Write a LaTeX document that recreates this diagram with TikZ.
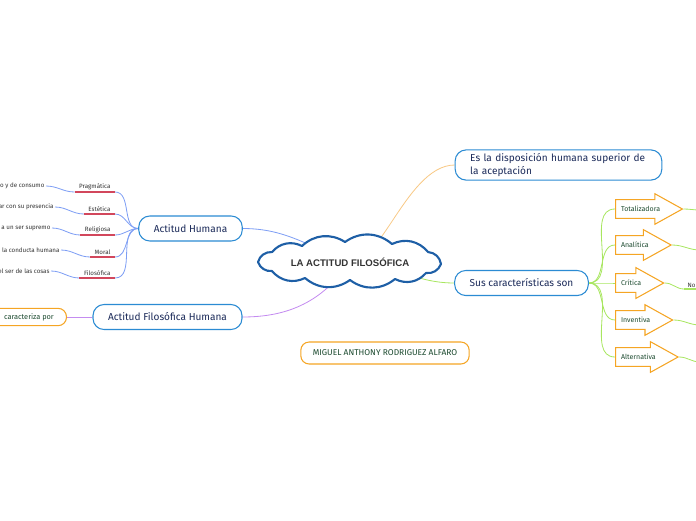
\documentclass[tikz,border=0pt]{standalone}
\usepackage{fontspec}
\setmainfont{Fira Sans}
\newfontfamily\cloudfont{Liberation Sans}
\usepackage{xcolor}
\usetikzlibrary{shapes, shapes.arrows, positioning, calc, backgrounds}

\definecolor{cloudblue}{HTML}{1E5FA6}
\definecolor{boxblue}{HTML}{2B8BD3}
\definecolor{navy}{HTML}{1C2B5A}
\definecolor{mmorange}{HTML}{F5A524}
\definecolor{mmgreen}{HTML}{1D4B30}
\definecolor{lnblue}{HTML}{7E9EF4}
\definecolor{lnpurple}{HTML}{C48CF0}
\definecolor{lnorange}{HTML}{F8C986}
\definecolor{lngreen}{HTML}{A8E660}
\definecolor{ulred}{HTML}{D2475C}

\tikzset{
  mainbox/.style={draw=boxblue, line width=0.9pt, rounded corners=0.33cm, fill=white,
    text=navy, font=\fontsize{8.6}{10.4}\selectfont, inner xsep=0.45cm, minimum height=0.75cm},
  orangebox/.style={draw=mmorange, line width=0.9pt, rounded corners=0.25cm, fill=white,
    text=mmgreen},
  arrowbox/.style={single arrow, draw=mmorange, line width=0.9pt, fill=white, text=mmgreen,
    font=\fontsize{6}{7}\selectfont, single arrow head extend=0.18cm,
    single arrow tip angle=58, inner xsep=0.15cm, inner ysep=0.18cm},
  label/.style={font=\fontsize{5.3}{6}\selectfont, text=black!80, inner xsep=0.13cm, inner ysep=0.06cm},
  leaf/.style={font=\fontsize{5.3}{6}\selectfont, text=black!80, inner xsep=0.04cm, inner ysep=0.03cm},
  conn/.style={line width=0.7pt},
  uline/.style={ulred, line width=1.5pt},
  puff/.style={bend left=38}
}

\begin{document}
\begin{tikzpicture}[x=0.03cm, y=-0.03cm]
  \useasboundingbox (0,0) rectangle (696,520);

  % Central topic: cloud outline drawn by hand
  \draw[cloudblue, line width=1.8pt, fill=white, line join=round]
    (258,262) to[puff] (272,252) to[puff] (302,246) to[puff] (345,242)
    to[puff] (392,244) to[puff] (428,252) to[puff] (441,264)
    to[puff] (426,273) to[puff] (395,279) to[puff] (350,280)
    to[puff] (305,278) to[puff] (272,271) to[puff] cycle;
  \node[font=\cloudfont\bfseries\fontsize{8.2}{9}\selectfont, text=black!80,
    minimum width=5.2cm, minimum height=1.1cm, inner sep=0] (root) at (350,262)
    {LA ACTITUD FILOSÓFICA};

  % Main topics
  \node[mainbox, text width=5.3cm, align=left] (disp) at (558.5,165)
    {Es la disposición humana superior de\\la aceptación};
  \node[mainbox] (sus) at (521.5,283) {Sus características son};
  \node[mainbox] (ah) at (190.5,228.5) {Actitud Humana};
  \node[mainbox] (afh) at (167.5,317) {Actitud Filosófica Humana};

  \node[orangebox, anchor=east, font=\fontsize{6.3}{7.5}\selectfont, inner xsep=0.38cm,
    minimum height=0.52cm] (carac) at (67,317) {caracteriza por};
  \node[orangebox, font=\fontsize{7.2}{8}\selectfont, inner xsep=0.36cm,
    minimum height=0.66cm] (autor) at (385,353) {MIGUEL ANTHONY RODRIGUEZ ALFARO};

  % Actitud Humana: kinds
  \node[label, anchor=south east] (prag) at (115,192) {Pragmática};
  \node[label, anchor=south east] (este) at (115,214) {Estética};
  \node[label, anchor=south east] (reli) at (115,235) {Religiosa};
  \node[label, anchor=south east] (mora) at (115,257) {Moral};
  \node[label, anchor=south east] (filo) at (115,278) {Filosófica};
  \foreach \n in {prag,este,reli,mora,filo}
    \draw[uline] (\n.south west) -- (\n.south east);

  \node[leaf, anchor=east] (lprag) at (46,186) {o y de consumo};
  \node[leaf, anchor=east] (leste) at (55,207) {ar con su presencia};
  \node[leaf, anchor=east] (lreli) at (52,228) {a un ser supremo};
  \node[leaf, anchor=east] (lmora) at (61,250) {la conducta humana};
  \node[leaf, anchor=east] (lfilo) at (51,271) {el ser de las cosas};

  % Characteristics
  \node[arrowbox, anchor=west] (tota) at (615,209) {Totalizadora};
  \node[arrowbox, anchor=west] (anal) at (615,245) {Analítica};
  \node[arrowbox, anchor=west] (crit) at (615,283) {Crítica};
  \node[arrowbox, anchor=west] (inve) at (615,320) {Inventiva};
  \node[arrowbox, anchor=west] (alte) at (615,357) {Alternativa};

  \node[leaf, anchor=south west, inner xsep=0.1cm] (cno) at (684,289) {No};
  \coordinate (etota) at (700,210);
  \coordinate (eanal) at (700,250);
  \coordinate (ecno) at (700,289);
  \coordinate (einve) at (700,325);
  \coordinate (ealte) at (700,362);

  % Connectors (behind the shapes)
  \begin{scope}[on background layer]
    \draw[conn, lnorange] (root.north) to[out=-62, in=180] (disp.west);
    \draw[conn, lngreen] (root.center) to[out=0, in=180] (sus.west);
    \draw[conn, lnblue] (root.center) to[out=160, in=0] (ah.east);
    \draw[conn, lnpurple] (root.center) to[out=235, in=0] (afh.east);
    \draw[conn, lnpurple] (afh.west) -- (carac.east);

    \foreach \n in {prag,este,reli,mora,filo}
      \draw[conn, lnblue] (ah.west) to[out=180, in=0] (\n.south east);
    \foreach \n in {prag,este,reli,mora,filo}
      \draw[conn, lnblue] (\n.south west) to[out=180, in=0] (l\n.east);

    \foreach \n in {tota,anal,crit,inve,alte}
      \draw[conn, lngreen] (sus.east) to[out=0, in=180] (\n.west);

    \draw[conn, lngreen] (tota.tip) to[out=0, in=180] (etota);
    \draw[conn, lngreen] (anal.tip) to[out=0, in=180] (eanal);
    \draw[conn, lngreen] (crit.tip) to[out=0, in=180] (cno.south west);
    \draw[lngreen, line width=1.5pt] (cno.south west) -- (ecno);
    \draw[conn, lngreen] (inve.tip) to[out=0, in=180] (einve);
    \draw[conn, lngreen] (alte.tip) to[out=0, in=180] (ealte);
  \end{scope}
\end{tikzpicture}
\end{document}
